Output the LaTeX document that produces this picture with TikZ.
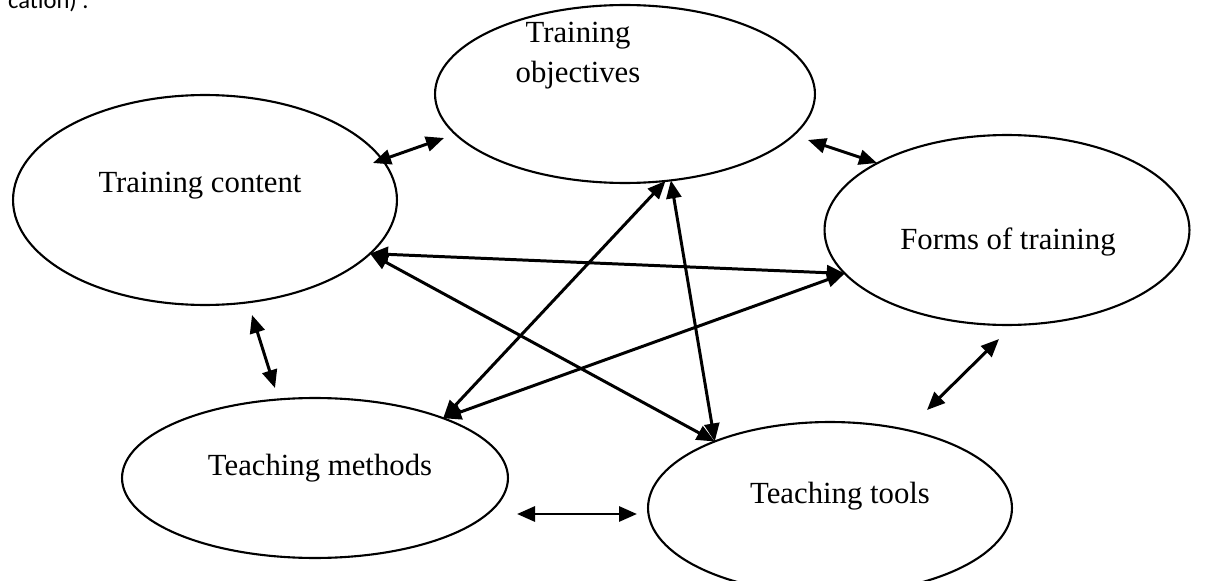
\documentclass[tikz,border=0pt]{standalone}
\usepackage{fontspec}
\setmainfont{Liberation Serif}
\newfontfamily\capfont{Carlito}
\usetikzlibrary{shapes.geometric,arrows.meta}

\tikzset{
  bubble/.style={ellipse, draw, line width=1.2pt, inner sep=0pt, outer sep=0pt},
  link/.style={{Triangle[length=0.36cm,width=0.3cm]}-{Triangle[length=0.36cm,width=0.3cm]}, line width=1.7pt},
  lbl/.style={font=\fontsize{17.5}{22.7}\selectfont, inner sep=0pt, align=center}
}

\begin{document}
\begin{tikzpicture}[x=0.02cm,y=-0.02cm]
\useasboundingbox (0,0) rectangle (1211,581);
\node[anchor=base east, inner sep=0pt, font=\capfont\fontsize{14}{17}\selectfont] (capt) at (89,9) {cation) .};

% ellipses
\node[bubble, minimum width=7.6cm, minimum height=3.56cm] (obj) at (625,94) {};
\node[bubble, minimum width=7.68cm, minimum height=4.2cm] (content) at (205,200) {};
\node[bubble, minimum width=7.3cm, minimum height=3.8cm] (forms) at (1007,230) {};
\node[bubble, minimum width=7.72cm, minimum height=3.2cm] (methods) at (315,478) {};
\node[bubble, minimum width=7.28cm, minimum height=3.44cm] (tools) at (830,508) {};

\node[lbl] (objTxt) at (578,56) {Training\\objectives};
\node[lbl] (contentTxt) at (200,186) {Training content};
\node[lbl] (formsTxt) at (1008,242) {Forms of training};
\node[lbl] (methodsTxt) at (320,468) {Teaching methods};
\node[lbl] (toolsTxt) at (840,496) {Teaching tools};

% short arrows between neighbours
\coordinate (co1) at (373,163);
\coordinate (co2) at (444,138);
\coordinate (of1) at (808,140);
\coordinate (of2) at (877,163);
\coordinate (cm1) at (252,315);
\coordinate (cm2) at (275,388);
\coordinate (mt1) at (517,514);
\coordinate (mt2) at (637,514);
\coordinate (ft1) at (999,339);
\coordinate (ft2) at (927,410);
\draw[link] (co1) -- (co2);
\draw[link] (of1) -- (of2);
\draw[link] (cm1) -- (cm2);
\draw[link] (mt1) -- (mt2);
\draw[link] (ft1) -- (ft2);

% long arrows across
\draw[link] (content.-18.65) -- (forms.-165.5);
\draw[link] (content.-18.65) -- (tools.150.8);
\draw[link] (obj.-65.5) -- (methods.25.8);
\draw[link] (obj.-62.2) -- (tools.150.8);
\draw[link] (methods.25.8) -- (forms.-165.5);
\end{tikzpicture}
\end{document}
